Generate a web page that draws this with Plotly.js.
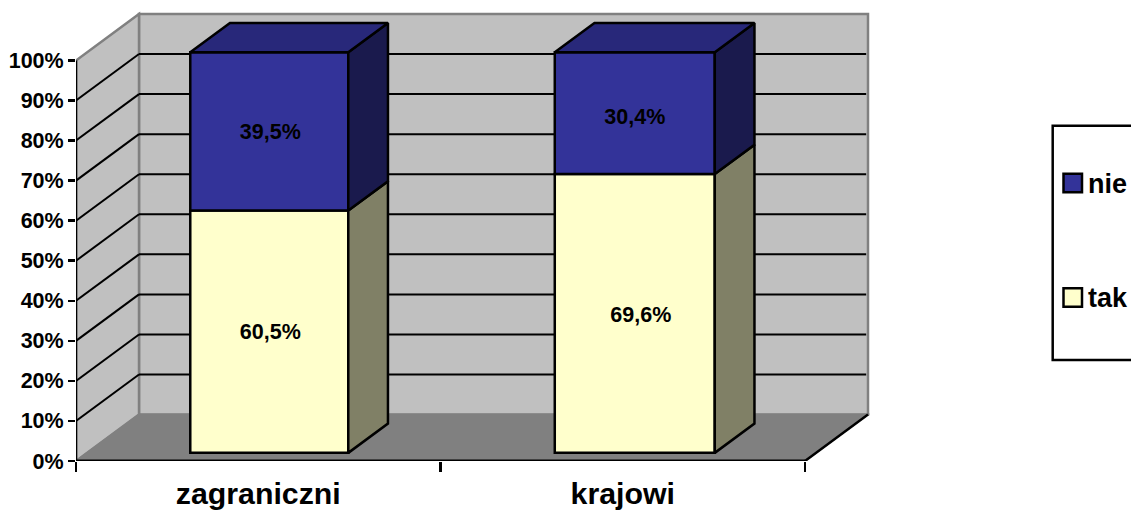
<!DOCTYPE html>
<html><head><meta charset="utf-8">
<script src="https://cdn.plot.ly/plotly-3.0.1.min.js"></script>
<style>html,body{margin:0;padding:0;background:#fff;overflow:hidden}</style>
</head><body><div id="chart" style="width:1131px;height:511px"></div>
<script>
const categories = ['zagraniczni', 'krajowi'];
const seriesTak = [60.5, 69.6];
const seriesNie = [39.5, 30.4];
const tickValues = [0,10,20,30,40,50,60,70,80,90,100];
const tickLabels = ['0%','10%','20%','30%','40%','50%','60%','70%','80%','90%','100%'];
const labelsTak = ['60,5%', '69,6%'];
const labelsNie = ['39,5%', '30,4%'];

const W = 1131, H = 511, L = 76, R = 251, T = 5, B = 49.5;
const pxX = 364.5, pxY = 4.01;
const depthX = 63 / pxX, depthY = 46.5 / pxY;    // full depth of the 3-D box, in axis units
const d0 = 0.175, d1 = 0.805;                    // bar depth span
const barW = [158 / pxX, 160 / pxX];             // bar widths
const FONT = 'Liberation Sans, Arial, sans-serif';
const K = '#000', GR = '#808080';
const proj = (x, v, d) => [x + d * depthX, v + d * depthY];
const paperX = p => (p - L) / (W - L - R);
const paperY = p => (H - B - p) / (H - T - B);

const centers = [0.5, 1.5 + 1 / pxX];
const tickCenters = [0.5, 1.5];
const frontX = centers.map(c => proj(c, 0, d0)[0]);
const baseTak = centers.map(() => proj(0, 0, d0)[1]);
const baseNie = seriesTak.map((v, i) => baseTak[i] + v);

function poly(pts, fill) {
  return {type:'scatter', mode:'lines', x:pts.map(p=>p[0]), y:pts.map(p=>p[1]),
    fill:'toself', fillcolor:fill, line:{color:K, width:2.5}, hoverinfo:'skip', showlegend:false};
}
function seg(a, b, color, width, axis) {
  const t = {type:'scatter', mode:'lines', x:[a[0],b[0]], y:[a[1],b[1]],
    line:{color, width}, hoverinfo:'skip', showlegend:false};
  if (axis) t.xaxis = axis;
  return t;
}
// label placement offsets in pixels (right, down) from each segment's centre
const barLabels = (vals, bases, labels, nudge) => ({type:'scatter', mode:'text',
  x:frontX.map((x, i) => x + nudge[i][0] / pxX),
  y:vals.map((v, i) => bases[i] + v / 2 - nudge[i][1] / pxY), text:labels,
  textposition:'middle center', textfont:{family:FONT, size:21.5, color:K, weight:700},
  hoverinfo:'skip', showlegend:false});
const traces = [
  {type:'bar', name:'tak', x:frontX, y:seriesTak, base:baseTak, width:barW,
   marker:{color:'#FFFFCC', line:{color:K, width:2.5}}, hoverinfo:'skip', showlegend:false},
  {type:'bar', name:'nie', x:frontX, y:seriesNie, base:baseNie, width:barW,
   marker:{color:'#333399', line:{color:K, width:2.5}}, hoverinfo:'skip', showlegend:false}
];
// sides and tops of the boxes
centers.forEach((c, i) => {
  const r = c + barW[i] / 2, l = c - barW[i] / 2;
  const tak = seriesTak[i], top = tak + seriesNie[i];
  traces.push(poly([proj(r,0,d0),proj(r,0,d1),proj(r,tak,d1),proj(r,tak,d0),proj(r,0,d0)], '#808066'));
  traces.push(poly([proj(r,tak,d0),proj(r,tak,d1),proj(r,top,d1),proj(r,top,d0),proj(r,tak,d0)], '#1A1A4D'));
  traces.push(poly([proj(l,top,d0),proj(l,top,d1),proj(r,top,d1),proj(r,top,d0),proj(l,top,d0)], '#28287A'));
});
traces.push(barLabels(seriesTak, baseTak, labelsTak, [[1,2],[6,3]]),
            barLabels(seriesNie, baseNie, labelsNie, [[1,2],[0,5]]));
// axis lines
traces.push(seg([0,0],[2,0],K,3,'x2'));
traces.push(seg([0,0],[0,100],K,2.5,'x2'));
traces.push(seg([2,0],proj(2,0,1),K,2.5,'x2'));

const rect = (x0,y0,x1,y1,fill,line,w,ref) => ({type:'rect', layer:ref==='paper'?'above':'below',
  xref:ref||'x', yref:ref||'y', x0,y0,x1,y1, fillcolor:fill, line:{color:line,width:w}});
const pathPoly = (pts, fill, line, w) => ({type:'path', layer:'below', xref:'x', yref:'y',
  path:'M'+pts.map(p=>p[0]+','+p[1]).join('L')+'Z', fillcolor:fill, line:{color:line,width:w}});
const lineS = (a,b,color,w) => ({type:'line', layer:'below', xref:'x', yref:'y',
  x0:a[0],y0:a[1],x1:b[0],y1:b[1], line:{color,width:w}});

const backBL = proj(0,0,1), backBR = proj(2,0,1), backTR = proj(2,100,1), backTL = proj(0,100,1);
const shapes = [
  pathPoly([backBL,backBR,backTR,backTL], '#C0C0C0', GR, 2.5),
  pathPoly([[0,0],backBL,backTL,[0,100]], '#C0C0C0', GR, 2.5),
  pathPoly([[0,0],[2,0],backBR,backBL], GR, GR, 1.5)
];
tickValues.filter(v => v > 0 && v < 100).forEach(v => {
  shapes.push(lineS(proj(0,v,0), proj(0,v,1), K, 2));
  shapes.push(lineS(proj(0,v,1), proj(1.995,v,1), K, 2));
});
// legend box, clipped by the page edge as in the source
const box = rect(paperX(1052.7), paperY(126), paperX(1140), paperY(360.5), '#fff', K, 2.5, 'paper');
const swatch = (y0,y1,c) => rect(paperX(1063.5),paperY(y0),paperX(1082),paperY(y1),c,K,2.5,'paper');
shapes.push(box, swatch(174,192.5,'#333399'), swatch(288.5,307,'#FFFFCC'));
const legendText = (t, y) => ({xref:'paper', yref:'paper', x:paperX(1085.5), y:paperY(y), text:'<b>'+t+'</b>',
  xanchor:'left', yanchor:'middle', showarrow:false, font:{family:FONT, size:27, color:K}});

const layout = {
  width:W, height:H, autosize:false, showlegend:false, paper_bgcolor:'#fff', plot_bgcolor:'#fff',
  margin:{l:L, r:R, t:T, b:B, pad:0}, barmode:'overlay',
  font:{family:FONT, color:K},
  xaxis:{range:[0,(W-L-R)/pxX], tickmode:'array', tickvals:tickCenters, ticktext:categories, ticks:'',
    showgrid:false, zeroline:false, showline:false, ticklabelstandoff:12,
    tickfont:{family:FONT, size:30.3, color:K, weight:700}},
  xaxis2:{range:[0,(W-L-R)/pxX], overlaying:'x', anchor:'y', side:'bottom', tickmode:'array', tickvals:[0,1,2],
    ticks:'outside', ticklen:9.5, tickwidth:2.5, tickcolor:K, showticklabels:false,
    showgrid:false, zeroline:false, showline:false},
  yaxis:{range:[0,(H-T-B)/pxY], tickmode:'array', tickvals:tickValues, ticktext:tickLabels, ticks:'outside',
    ticklen:7, tickwidth:2.5, tickcolor:K, showgrid:false, zeroline:false, showline:false,
    tickfont:{family:FONT, size:21.5, color:K, weight:700}},
  shapes, annotations:[legendText('nie',184), legendText('tak',298)]
};
Plotly.newPlot('chart', traces, layout, {displayModeBar:false, staticPlot:true});
</script></body></html>
